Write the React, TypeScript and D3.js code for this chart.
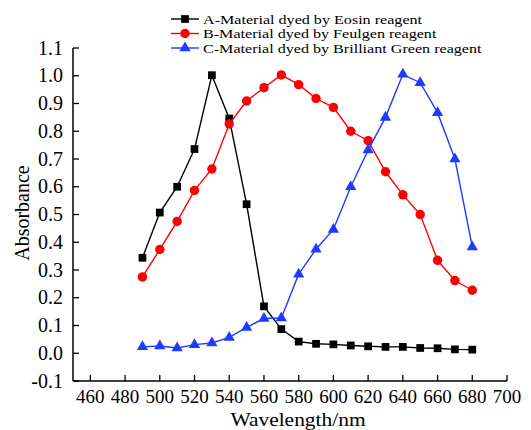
import React from "react";
import * as d3 from "d3";

const wavelengths = [490, 500, 510, 520, 530, 540, 550, 560, 570, 580, 590, 600, 610, 620, 630, 640, 650, 660, 670, 680];
const seriesA = [0.344, 0.507, 0.600, 0.736, 1.002, 0.846, 0.537, 0.169, 0.087, 0.042, 0.034, 0.032, 0.028, 0.025, 0.023, 0.023, 0.019, 0.018, 0.014, 0.013];
const seriesB = [0.275, 0.374, 0.475, 0.587, 0.664, 0.826, 0.909, 0.957, 1.003, 0.968, 0.918, 0.886, 0.800, 0.766, 0.654, 0.571, 0.500, 0.335, 0.262, 0.227];
const seriesC = [0.023, 0.026, 0.019, 0.031, 0.037, 0.057, 0.093, 0.125, 0.127, 0.285, 0.375, 0.446, 0.600, 0.732, 0.850, 1.005, 0.975, 0.867, 0.700, 0.383];
const seriesNames = [
  "A-Material dyed by Eosin reagent",
  "B-Material dyed by Feulgen reagent",
  "C-Material dyed by Brilliant Green reagent",
];
const xTicks = [460, 480, 500, 520, 540, 560, 580, 600, 620, 640, 660, 680, 700];
const yTicks = [-0.1, 0.0, 0.1, 0.2, 0.3, 0.4, 0.5, 0.6, 0.7, 0.8, 0.9, 1.0, 1.1];

const FONT = "'Liberation Serif', 'Times New Roman', serif";

export default function App() {
  const W = 531, H = 430;
  const x = d3.scaleLinear().domain([450, 700]).range([73, 507]);
  const y = d3.scaleLinear().domain([-0.1, 1.1]).range([381, 48]);

  const series = [
    { name: seriesNames[0], values: seriesA, color: "#000000", marker: "square" },
    { name: seriesNames[1], values: seriesB, color: "#ff0000", marker: "circle" },
    { name: seriesNames[2], values: seriesC, color: "#1e3cff", marker: "triangle" },
  ];

  const line = d3.line<[number, number]>().x(d => x(d[0])).y(d => y(d[1]));
  const sq = d3.symbol().type(d3.symbolSquare).size(60)()!;
  const ci = d3.symbol().type(d3.symbolCircle).size(70)()!;
  const tr = d3.symbol().type(d3.symbolTriangle).size(55)()!;
  const markerPath = (m: string) => (m === "square" ? sq : m === "circle" ? ci : tr);

  const legendY = [19, 33.5, 48];

  return (
    <svg width={W} height={H} style={{ position: "absolute", left: 0, top: 0, background: "#fff" }}>
      <rect width={W} height={H} fill="#fff" />
      {/* axes */}
      <line x1={x(450)} x2={x(450)} y1={y(1.1)} y2={y(-0.1)} stroke="#000" strokeWidth={1.5} />
      <line x1={x(450)} x2={x(700)} y1={y(-0.1)} y2={y(-0.1)} stroke="#000" strokeWidth={1.5} />
      {yTicks.map(t => (
        <g key={"y" + t}>
          <line x1={x(450)} x2={x(450) + 6} y1={y(t)} y2={y(t)} stroke="#000" strokeWidth={1.3} />
          <text x={63} y={y(t) + 6.5} textAnchor="end" fontFamily={FONT} fontSize={20} fill="#000">
            {t.toFixed(1)}
          </text>
        </g>
      ))}
      {xTicks.map(t => (
        <g key={"x" + t}>
          <line x1={x(t)} x2={x(t)} y1={y(-0.1)} y2={y(-0.1) - 6} stroke="#000" strokeWidth={1.3} />
          <text x={x(t)} y={403} textAnchor="middle" fontFamily={FONT} fontSize={19} fill="#000">
            {t}
          </text>
        </g>
      ))}
      <text
        transform="translate(298,425.5) scale(1.1,1)"
        textAnchor="middle"
        fontFamily={FONT}
        fontSize={19.5}
        fill="#000"
      >
        Wavelength/nm
      </text>
      <text
        transform={`translate(29,213) rotate(-90)`}
        textAnchor="middle"
        fontFamily={FONT}
        fontSize={20}
        fill="#000"
      >
        Absorbance
      </text>
      {/* series */}
      {series.map(s => {
        const pts = wavelengths.map((w, i) => [w, s.values[i]] as [number, number]);
        return (
          <g key={s.name}>
            <path d={line(pts)!} fill="none" stroke={s.color} strokeWidth={1.4} />
            {pts.map((p, i) => (
              <path key={i} d={markerPath(s.marker)} transform={`translate(${x(p[0])},${y(p[1])})`} fill={s.color} />
            ))}
          </g>
        );
      })}
      {/* legend */}
      {series.map((s, i) => (
        <g key={"leg" + i}>
          <line x1={171} x2={199} y1={legendY[i]} y2={legendY[i]} stroke={s.color} strokeWidth={1.4} />
          <path d={markerPath(s.marker)} transform={`translate(185,${legendY[i]})`} fill={s.color} />
          <text
            transform={`translate(203,${legendY[i] + 4.8}) scale(1.24,1)`}
            fontFamily={FONT}
            fontSize={13}
            fill="#000"
          >
            {s.name}
          </text>
        </g>
      ))}
    </svg>
  );
}
